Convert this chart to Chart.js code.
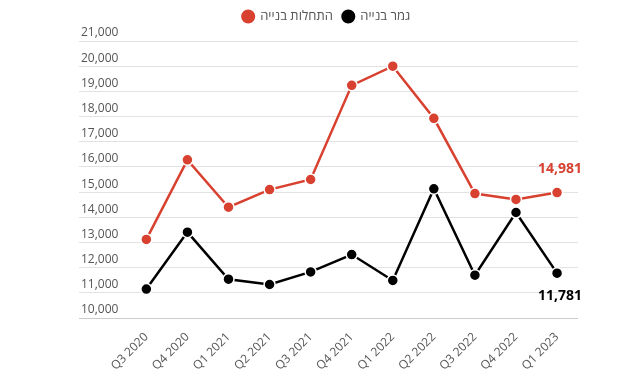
<!DOCTYPE html>
<html><head><meta charset="utf-8">
<script src="https://cdn.jsdelivr.net/npm/chart.js@4.4.1/dist/chart.umd.min.js"></script>
<style>html,body{margin:0;padding:0;background:#fff}</style>
</head><body>
<canvas id="c" width="629" height="378"></canvas>
<script>
const quarters = ['Q3 2020','Q4 2020','Q1 2021','Q2 2021','Q3 2021','Q4 2021','Q1 2022','Q2 2022','Q3 2022','Q4 2022','Q1 2023'];
const startsLabel = 'התחלות בנייה';
const completionsLabel = 'גמר בנייה';
const starts = [13120, 16280, 14400, 15100, 15500, 19240, 20000, 17930, 14940, 14710, 14981];
const completions = [11150, 13410, 11540, 11330, 11830, 12520, 11490, 15130, 11700, 14190, 11781];
const yMin = 10000, yMax = 21000, yStep = 1000;

const RED = '#d8402f', BLACK = '#000000';
const FONT = '"Open Sans", "DejaVu Sans", sans-serif';
const fmt = v => Math.round(v).toLocaleString('en-US');

const legendHeight = {
  id: 'legendHeight',
  beforeUpdate(chart) {
    const lg = chart.legend;
    if (lg && !lg._patched) {
      const orig = lg.fit;
      lg.fit = function () { orig.call(this); this.height = 41; };
      lg._patched = true;
    }
  }
};

const lastLabels = {
  id: 'lastLabels',
  afterDatasetsDraw(chart) {
    const ctx = chart.ctx;
    chart.data.datasets.forEach((ds, di) => {
      const meta = chart.getDatasetMeta(di);
      const n = ds.data.length - 1;
      const pt = meta.data[n];
      if (!pt) return;
      ctx.save();
      ctx.font = 'bold 14px ' + FONT;
      ctx.fillStyle = ds.borderColor;
      ctx.textAlign = 'center';
      ctx.textBaseline = 'middle';
      const dy = di === 0 ? -24 : 23;
      ctx.fillText(fmt(ds.data[n].y), pt.x + 3, pt.y + dy);
      ctx.restore();
    });
  }
};

new Chart(document.getElementById('c'), {
  type: 'line',
  data: {
    datasets: [
      { label: startsLabel, data: starts.map((v,i)=>({x:i,y:v})), borderColor: RED, backgroundColor: RED,
        borderWidth: 2.5, pointRadius: 5.5, pointHoverRadius: 5.5, pointBorderColor: '#fff', pointBorderWidth: 1.5, pointBackgroundColor: RED, tension: 0 },
      { label: completionsLabel, data: completions.map((v,i)=>({x:i,y:v})), borderColor: BLACK, backgroundColor: BLACK,
        borderWidth: 2.5, pointRadius: 5.5, pointHoverRadius: 5.5, pointBorderColor: '#fff', pointBorderWidth: 1.5, pointBackgroundColor: BLACK, tension: 0 }
    ]
  },
  options: {
    responsive: false,
    animation: false,
    devicePixelRatio: 1,
    layout: { padding: { left: 75, right: 51, top: 0, bottom: 0 } },
    plugins: {
      legend: {
        position: 'top',
        labels: { usePointStyle: true, pointStyle: 'circle', boxWidth: 11, boxHeight: 11, color: '#555', padding: 10,
          font: { family: FONT, size: 13 } }
      },
      tooltip: { enabled: false }
    },
    scales: {
      x: {
        type: 'linear', min: -1.64, max: 10.51,
        grid: { display: false }, border: { display: false },
        afterBuildTicks: s => { s.ticks = quarters.map((q,i)=>({value:i})); },
        afterFit: s => { s.height = 60; },
        ticks: { autoSkip: false, includeBounds: false, stepSize: 1, maxRotation: 45, minRotation: 45, padding: 4, color: '#555',
          font: { family: FONT, size: 12 }, callback: v => quarters[v] }
      },
      y: {
        min: yMin, max: yMax,
        border: { display: false },
        grid: { drawTicks: false, color: c => c.tick && c.tick.value === yMin ? '#cbcbcb' : '#e2e2e2', lineWidth: 1 },
        ticks: { stepSize: yStep, mirror: true, padding: 2, labelOffset: -8, color: '#555',
          font: { family: FONT, size: 12 }, callback: v => fmt(v) }
      }
    }
  },
  plugins: [legendHeight, lastLabels]
});
</script>
</body></html>
